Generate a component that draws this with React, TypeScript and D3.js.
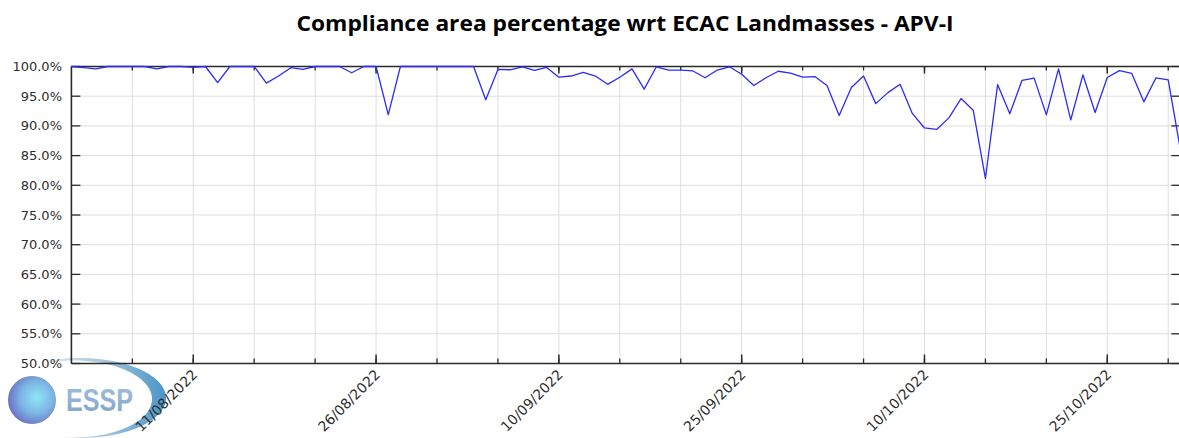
import React from "react";
import * as d3 from "d3";

const TITLE = "Compliance area percentage wrt ECAC Landmasses - APV-I";
const START_DATE = "01/08/2022";
const END_DATE = "31/10/2022";
// daily compliance percentage, starting 01/08/2022
const compliance = [
  100, 99.8, 99.6, 100, 100, 100, 100, 99.6, 100, 100,
  99.85, 100, 97.3, 100, 100, 100, 97.2, 98.4, 99.8, 99.5,
  100, 100, 100, 98.95, 100, 100, 91.9, 100, 100, 100,
  100, 100, 100, 100, 94.4, 99.5, 99.45, 99.95, 99.35, 99.85,
  98.2, 98.4, 99.0, 98.4, 97.0, 98.2, 99.6, 96.2, 99.95, 99.4,
  99.4, 99.25, 98.1, 99.4, 99.95, 98.7, 96.8, 98.1, 99.2, 98.9,
  98.2, 98.3, 96.8, 91.75, 96.45, 98.4, 93.75, 95.6, 97.0, 92.1,
  89.65, 89.4, 91.35, 94.6, 92.65, 81.15, 96.95, 92.05, 97.65, 98.05,
  91.85, 99.6, 91.0, 98.6, 92.25, 98.15, 99.3, 98.85, 94.05, 98.1,
  97.75, 86.0,
];
const xTickLabels = ["11/08/2022", "26/08/2022", "10/09/2022", "25/09/2022", "10/10/2022", "25/10/2022"];
const yTicks = [50, 55, 60, 65, 70, 75, 80, 85, 90, 95, 100];
const TICK_STEP_DAYS = 5;

const W = 1179;
const H = 438;
const parse = d3.timeParse("%d/%m/%Y");

export default function App() {
  const start = parse(START_DATE)!;
  const end = parse(END_DATE)!;
  const x = d3.scaleTime().domain([start, end]).range([71.4, 1180.4]);
  const y = d3.scaleLinear().domain([50, 100]).range([363.5, 66.5]);

  const data = compliance.map((v, i) => ({ date: d3.timeDay.offset(start, i), v }));
  const line = d3
    .line<{ date: Date; v: number }>()
    .x((d) => x(d.date))
    .y((d) => y(d.v));

  const nDays = d3.timeDay.count(start, end);
  const minorTicks: Date[] = [];
  for (let i = TICK_STEP_DAYS; i < nDays; i += TICK_STEP_DAYS) minorTicks.push(d3.timeDay.offset(start, i));
  const majorTicks = xTickLabels.map((s) => ({ label: s, date: parse(s)! }));

  const [x0, x1] = x.range();
  const [yb, yt] = y.range();
  const axisColor = "#2b2b2b";
  const gridColor = "#dedede";

  // logo geometry
  const lcx = 80, lcy = 398;
  const arcPath = (() => {
    const a0 = (-108 * Math.PI) / 180;
    const a1 = (106 * Math.PI) / 180;
    const outer = { cx: lcx, cy: lcy, rx: 86, ry: 40 };
    const inner = { cx: lcx - 6, cy: lcy + 1, rx: 78, ry: 38.5 };
    const pts: string[] = [];
    const N = 60;
    for (let k = 0; k <= N; k++) {
      const a = a0 + ((a1 - a0) * k) / N;
      pts.push(`${outer.cx + outer.rx * Math.cos(a)},${outer.cy + outer.ry * Math.sin(a)}`);
    }
    for (let k = N; k >= 0; k--) {
      const a = a0 + ((a1 - a0) * k) / N;
      pts.push(`${inner.cx + inner.rx * Math.cos(a)},${inner.cy + inner.ry * Math.sin(a)}`);
    }
    return "M" + pts.join("L") + "Z";
  })();

  return (
    <svg
      width={W}
      height={H}
      style={{ position: "absolute", left: 0, top: 0, background: "#fff" }}
      xmlns="http://www.w3.org/2000/svg"
    >
      <defs>
        <radialGradient id="sphere" cx="0.6" cy="0.45" r="0.6">
          <stop offset="0" stopColor="#8fe6f7" />
          <stop offset="0.55" stopColor="#7db6e6" />
          <stop offset="1" stopColor="#6a74c4" />
        </radialGradient>
        <linearGradient id="swoosh" x1="0" y1="0" x2="1" y2="0">
          <stop offset="0" stopColor="#d8e4ee" />
          <stop offset="0.5" stopColor="#9cc0dc" />
          <stop offset="1" stopColor="#3f8fc4" />
        </linearGradient>
        <linearGradient id="esspText" x1="0" y1="0" x2="0" y2="1">
          <stop offset="0" stopColor="#a3c0dc" />
          <stop offset="1" stopColor="#7ea3c8" />
        </linearGradient>
      </defs>

      <text
        x={625}
        y={31}
        textAnchor="middle"
        fontFamily="'Open Sans', sans-serif"
        fontWeight="bold"
        fontSize={22}
        textLength={657}
        lengthAdjust="spacingAndGlyphs"
        fill="#000"
      >
        {TITLE}
      </text>

      {/* grid */}
      {yTicks.slice(1, -1).map((t) => (
        <line key={"gy" + t} x1={x0} x2={x1} y1={y(t)} y2={y(t)} stroke={gridColor} strokeWidth={1} />
      ))}
      {minorTicks.map((d, i) => (
        <line key={"gx" + i} x1={x(d)} x2={x(d)} y1={yt} y2={yb} stroke={gridColor} strokeWidth={1} />
      ))}

      {/* logo */}
      <path d={arcPath} fill="url(#swoosh)" opacity={0.95} />
      <circle cx={32} cy={400} r={24} fill="url(#sphere)" />
      <text
        x={66}
        y={411}
        fontFamily="'Liberation Sans', Arial, sans-serif"
        fontWeight="bold"
        fontSize={31}
        textLength={67}
        lengthAdjust="spacingAndGlyphs"
        fill="url(#esspText)"
      >
        ESSP
      </text>

      {/* axes frame */}
      <line x1={x0} x2={x1} y1={yb} y2={yb} stroke={axisColor} strokeWidth={1.6} />
      <line x1={x0} x2={x1} y1={yt} y2={yt} stroke={axisColor} strokeWidth={1.6} />
      <line x1={x0} x2={x0} y1={yt} y2={yb} stroke={axisColor} strokeWidth={1.6} />
      <line x1={x1} x2={x1} y1={yt} y2={yb} stroke={axisColor} strokeWidth={1.6} />

      {/* y ticks */}
      {yTicks.map((t) => (
        <g key={"yt" + t}>
          <line x1={x0} x2={x0 + 9} y1={y(t)} y2={y(t)} stroke={axisColor} strokeWidth={1.3} />
          <line x1={x1 - 9} x2={x1} y1={y(t)} y2={y(t)} stroke={axisColor} strokeWidth={1.3} />
          <text
            x={62}
            y={y(t)}
            dy="0.35em"
            textAnchor="end"
            fontFamily="'DejaVu Sans', sans-serif"
            fontSize={13}
            fill="#2e2e2e"
          >
            {t.toFixed(1) + "%"}
          </text>
        </g>
      ))}

      {/* x ticks */}
      {minorTicks.map((d, i) => (
        <g key={"xt" + i}>
          <line x1={x(d)} x2={x(d)} y1={yb} y2={yb - 5} stroke={axisColor} strokeWidth={1.3} />
          <line x1={x(d)} x2={x(d)} y1={yt} y2={yt + 4} stroke={axisColor} strokeWidth={1.3} />
        </g>
      ))}
      {majorTicks.map((t) => (
        <g key={"xm" + t.label}>
          <line x1={x(t.date)} x2={x(t.date)} y1={yb} y2={yb - 9} stroke={axisColor} strokeWidth={1.5} />
          <line x1={x(t.date)} x2={x(t.date)} y1={yt} y2={yt + 7} stroke={axisColor} strokeWidth={1.5} />
          <text
            transform={`translate(${x(t.date) + 5},${yb + 12}) rotate(-45)`}
            textAnchor="end"
            fontFamily="'DejaVu Sans', sans-serif"
            fontSize={14}
            fill="#2e2e2e"
          >
            {t.label}
          </text>
        </g>
      ))}

      {/* data line */}
      <path d={line(data) || ""} fill="none" stroke="#2b2bff" strokeWidth={1.3} strokeLinejoin="round" />
    </svg>
  );
}
